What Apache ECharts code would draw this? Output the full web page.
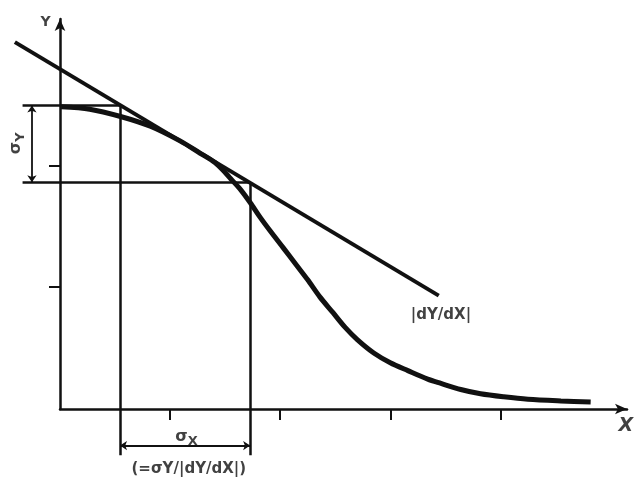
<!DOCTYPE html>
<html lang="en">
<head>
    <meta charset="UTF-8">
    <title>dY/dX</title>
    <style>
        html, body { margin: 0; padding: 0; background: #fff; }
        #main { width: 634px; height: 477px; }
    </style>
</head>
<body>
<div id="main"></div>
<script src="https://cdn.jsdelivr.net/npm/echarts@6/dist/echarts.min.js"></script>
<script>
    // curve Y(X)
    const curveX = [0.01, 0.27, 0.55, 0.82, 1.09, 1.27, 1.41, 1.50, 1.56, 1.64, 1.73, 1.82, 1.91, 2.03, 2.14, 2.25,
        2.36, 2.48, 2.59, 2.70, 2.85, 3.00, 3.16, 3.34, 3.46, 3.64, 3.82, 4.03, 4.25, 4.55, 4.82];
    const curveY = [2.48, 2.46, 2.40, 2.32, 2.20, 2.10, 2.02, 1.94, 1.88, 1.80, 1.69, 1.57, 1.46, 1.32, 1.19, 1.06,
        0.92, 0.79, 0.67, 0.57, 0.46, 0.38, 0.315, 0.245, 0.21, 0.16, 0.125, 0.10, 0.08, 0.066, 0.057];

    // tangent |dY/dX|
    const tangentX = [-0.41, 3.44];
    const tangentY = [3.01, 0.93];

    // sigma construction
    const yTop = 2.49, yBot = 1.86;      // sigma Y band
    const xLeft = 0.545, xRight = 1.727; // sigma X band
    const xTicks = [1, 2, 3, 4];
    const yTicks = [1, 2];

    const myChart = echarts.init(document.getElementById('main'));

    const ink = '#111';
    const font = 'DejaVu Sans';

    // helper lines (construction)
    const helpers = [
        [[-0.34, yTop], [xLeft, yTop]],
        [[-0.34, yBot], [xRight, yBot]],
        [[xLeft, yTop], [xLeft, -0.38]],
        [[xRight, yBot], [xRight, -0.38]]
    ];
    // dimension arrows
    const dims = [
        [[xLeft, -0.30], [xRight, -0.30]],
        [[-0.255, yTop], [-0.255, yBot]]
    ];

    // text annotations [x, y, text, rotate]
    const notes = [
        [-0.13, 3.17, '{i|Y}', 0],
        [5.14, -0.14, '{x|X}', 0],
        [-0.40, 2.18, '{s|σ}{sub|Y}', 90],
        [3.46, 0.77, '|dY/dX|', 0],
        [1.15, -0.23, '{s|σ}{sub|X}', 0],
        [1.17, -0.49, '(=σY/|dY/dX|)', 0]
    ];

    const option = {
        animation: false,
        backgroundColor: '#fff',
        grid: {left: 60, right: 7, top: 19, bottom: 68},
        xAxis: {
            type: 'value', min: 0, max: 5.15,
            splitLine: {show: false},
            axisLabel: {show: false},
            axisLine: {
                onZero: false,
                symbol: ['none', 'arrow'], symbolSize: [8, 12],
                lineStyle: {color: ink, width: 2.5}
            },
            axisTick: {show: true, length: 11, customValues: xTicks, lineStyle: {color: ink, width: 2}}
        },
        yAxis: {
            type: 'value', min: 0, max: 3.2,
            splitLine: {show: false},
            axisLabel: {show: false},
            axisLine: {
                show: true, onZero: false,
                symbol: ['none', 'arrow'], symbolSize: [8, 12],
                lineStyle: {color: ink, width: 2.5}
            },
            axisTick: {show: true, length: 11, customValues: yTicks, lineStyle: {color: ink, width: 2}}
        },
        series: [
            {
                type: 'lines', coordinateSystem: 'cartesian2d', clip: false, silent: true,
                lineStyle: {color: ink, width: 2.5, opacity: 1},
                data: helpers.map(c => ({coords: c}))
            },
            {
                type: 'lines', coordinateSystem: 'cartesian2d', clip: false, silent: true,
                symbol: ['arrow', 'arrow'], symbolSize: 7,
                lineStyle: {color: ink, width: 1.8, opacity: 1},
                data: dims.map(c => ({coords: c}))
            },
            {
                // tangent
                type: 'lines', coordinateSystem: 'cartesian2d', clip: false, silent: true,
                lineStyle: {color: ink, width: 4, opacity: 1},
                data: [{coords: tangentX.map((x, i) => [x, tangentY[i]])}]
            },
            {
                type: 'line', clip: false, symbol: 'none', silent: true,
                smooth: 0.3,
                lineStyle: {color: ink, width: 5},
                data: curveX.map((x, i) => [x, curveY[i]])
            },
            {
                type: 'scatter', clip: false, symbolSize: 0, silent: true,
                data: notes.map(n => ({
                    value: [n[0], n[1]],
                    label: {rotate: n[3]},
                    name: n[2]
                })),
                label: {
                    show: true, position: 'inside',
                    formatter: p => p.name,
                    color: ink, fontFamily: font, fontWeight: 'bold', fontSize: 15,
                    rich: {
                        i: {fontFamily: font, fontWeight: 'bold', fontSize: 14, color: ink},
                        x: {fontFamily: font, fontWeight: 'bold', fontStyle: 'italic', fontSize: 19, color: ink},
                        s: {fontFamily: font, fontWeight: 'bold', fontSize: 16, color: ink},
                        sub: {fontFamily: font, fontWeight: 'bold', fontSize: 13, color: ink, padding: [9, 0, 0, 0]}
                    }
                }
            }
        ]
    };
    myChart.setOption(option);
</script>
</body>
</html>
